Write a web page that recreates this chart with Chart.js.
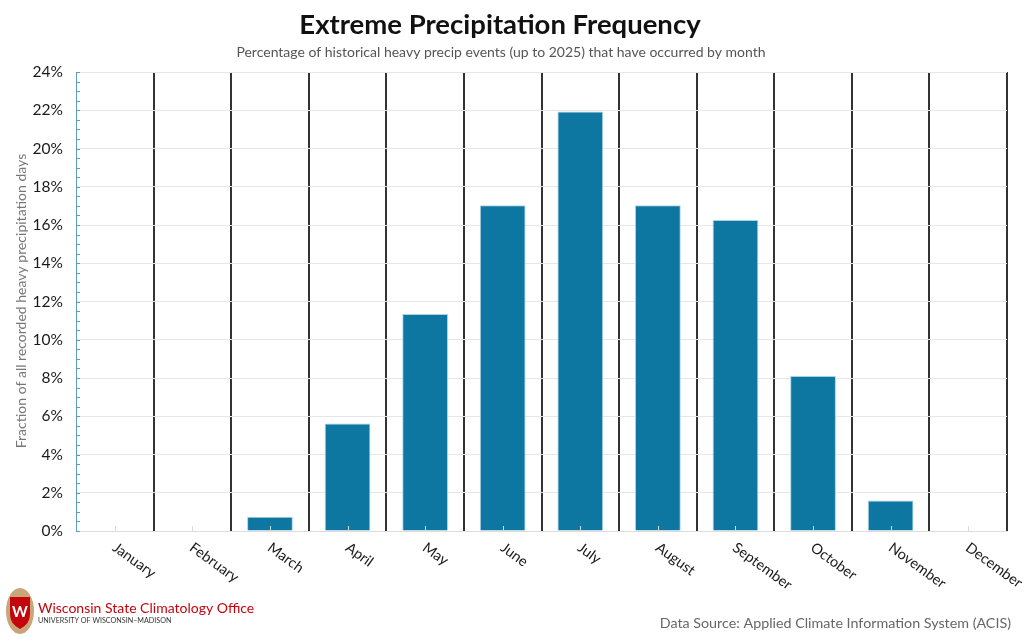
<!DOCTYPE html>
<html>
<head>
<meta charset="utf-8">
<script src="https://cdn.jsdelivr.net/npm/chart.js@4"></script>
<style>
  html, body { margin: 0; padding: 0; background: #fff; }
  #wrap { width: 1024px; height: 637px; position: relative; }
</style>
</head>
<body>
<div id="wrap"><canvas id="chart" width="1024" height="637"></canvas></div>
<script>
const months = ['January', 'February', 'March', 'April', 'May', 'June', 'July',
  'August', 'September', 'October', 'November', 'December'];
// percent of heavy precip days per month
const shares = [0, 0, 0.75, 5.62, 11.35, 17.03, 21.93, 17.03, 16.26, 8.1, 1.6, 0];
const yTicks = [0, 2, 4, 6, 8, 10, 12, 14, 16, 18, 20, 22, 24];

const titleText = 'Extreme Precipitation Frequency';
const subtitleText = 'Percentage of historical heavy precip events (up to 2025) that have occurred by month';
const yTitle = 'Fraction of all recorded heavy precipitation days';
const sourceText = 'Data Source: Applied Climate Information System (ACIS)';

const FONT = 'Lato, "Noto Sans", sans-serif';

const decor = {
  id: 'decor',
  afterDraw(chart) {
    const ctx = chart.ctx;
    const x = chart.scales.x, y = chart.scales.y;
    const area = chart.chartArea;
    ctx.save();

    // title + subtitle
    ctx.textAlign = 'center';
    ctx.textBaseline = 'middle';
    ctx.fillStyle = '#111';
    ctx.font = 'bold 27.5px ' + FONT;
    ctx.fillText(titleText, 500, 25);
    ctx.fillStyle = '#555';
    ctx.font = '14px ' + FONT;
    ctx.fillText(subtitleText, 501, 52);

    // y axis title
    ctx.save();
    ctx.translate(21, 301);
    ctx.rotate(-Math.PI / 2);
    ctx.fillStyle = '#777';
    ctx.font = '14px ' + FONT;
    ctx.fillText(yTitle, 0, 0);
    ctx.restore();

    // minor ticks on y axis, every 0.5
    ctx.strokeStyle = '#5b9dbb';
    ctx.lineWidth = 1;
    for (let v = 0; v <= 24; v += 0.5) {
      const py = Math.round(y.getPixelForValue(v)) + 0.5;
      ctx.beginPath();
      ctx.moveTo(area.left, py);
      ctx.lineTo(area.left + 4, py);
      ctx.stroke();
    }

    // small ticks at category centres and rotated month labels
    ctx.strokeStyle = '#d8d8d8';
    ctx.fillStyle = '#1a1a1a';
    ctx.font = '14.5px ' + FONT;
    ctx.textAlign = 'left';
    ctx.textBaseline = 'top';
    months.forEach((m, i) => {
      const px = Math.round(x.getPixelForValue(i)) + 0.5;
      ctx.beginPath();
      ctx.moveTo(px, area.bottom);
      ctx.lineTo(px, area.bottom - 5);
      ctx.stroke();
      ctx.save();
      ctx.translate(px + 3, area.bottom + 9);
      ctx.rotate(36 * Math.PI / 180);
      ctx.fillText(m, 0, 0);
      ctx.restore();
    });

    // data source
    ctx.textAlign = 'right';
    ctx.textBaseline = 'middle';
    ctx.fillStyle = '#666';
    ctx.font = '14.3px ' + FONT;
    ctx.fillText(sourceText, 1011, 623);

    // logo crest
    ctx.fillStyle = '#c9a57a';
    ctx.beginPath();
    ctx.ellipse(20, 611, 14, 23, 0, 0, Math.PI * 2);
    ctx.fill();
    ctx.fillStyle = '#c5050c';
    ctx.beginPath();
    ctx.moveTo(10, 597);
    ctx.lineTo(30, 597);
    ctx.lineTo(30, 614);
    ctx.quadraticCurveTo(30, 624, 20, 629);
    ctx.quadraticCurveTo(10, 624, 10, 614);
    ctx.closePath();
    ctx.fill();
    ctx.fillStyle = '#fff';
    ctx.font = 'bold 15px ' + FONT;
    ctx.textAlign = 'center';
    ctx.fillText('W', 20, 612);

    // logo text
    ctx.textAlign = 'left';
    ctx.fillStyle = '#c5050c';
    ctx.font = '14px ' + FONT;
    ctx.fillText('Wisconsin State Climatology Office', 38, 608);
    ctx.fillStyle = '#333';
    ctx.font = '7.2px ' + FONT;
    ctx.fillText('UNIVERSITY OF WISCONSIN\u2013MADISON', 38, 621);

    ctx.restore();
  }
};

const chart = new Chart(document.getElementById('chart').getContext('2d'), {
  type: 'bar',
  data: {
    labels: months,
    datasets: [{
      data: shares,
      backgroundColor: '#0d76a1',
      borderColor: '#a9d3e4',
      borderWidth: 1,
      barPercentage: 0.59,
      categoryPercentage: 1
    }]
  },
  options: {
    responsive: false,
    animation: false,
    layout: {
      padding: { top: 72, right: 17, bottom: 0, left: 0 }
    },
    plugins: {
      legend: { display: false },
      tooltip: { enabled: false }
    },
    scales: {
      x: {
        offset: true,
        afterFit: scale => { scale.height = 106; },
        ticks: { display: false },
        grid: {
          offset: true,
          drawTicks: false,
          lineWidth: 2,
          color: ctx => (ctx.index === 0 || ctx.index === months.length) ? 'rgba(0,0,0,0)' : '#333'
        },
        border: { color: '#dcdcdc', width: 1 }
      },
      y: {
        min: 0,
        max: 24,
        afterFit: scale => { scale.width = 76; },
        afterBuildTicks: scale => { scale.ticks = yTicks.map(v => ({ value: v })); },
        ticks: {
          color: '#1a1a1a',
          font: { family: FONT, size: 15.5 },
          padding: 13,
          callback: v => v + '%'
        },
        grid: {
          drawTicks: false,
          color: '#e6e6e6',
          lineWidth: 1
        },
        border: { color: '#5b9dbb', width: 1 }
      }
    }
  },
  plugins: [decor]
});
</script>
</body>
</html>
